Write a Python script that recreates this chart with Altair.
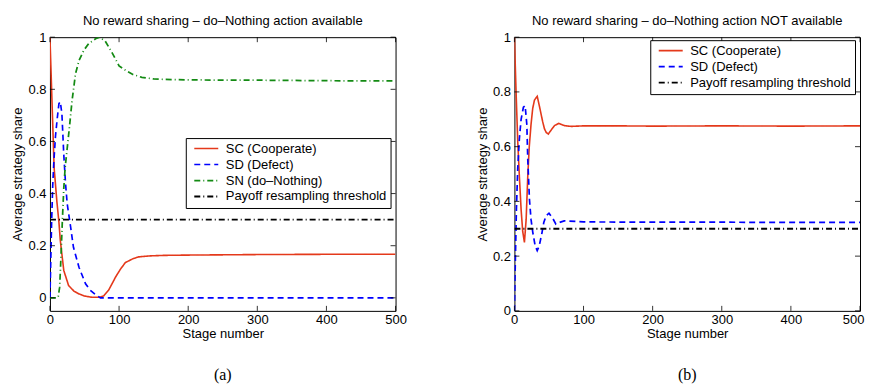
import altair as alt
import pandas as pd

# ---------------- data ----------------
SERIES_A = ["SC (Cooperate)", "SD (Defect)", "SN (do–Nothing)", "Payoff resampling threshold"]
SERIES_B = ["SC (Cooperate)", "SD (Defect)", "Payoff resampling threshold"]

# Panel (a): do-Nothing available
a_sc_x = [0, 3, 6, 10, 13, 15, 20, 27, 35, 42, 50, 61, 72, 78, 85, 95, 102, 109, 120, 128, 145, 167, 200, 250, 300, 400, 500]
a_sc_y = [1.0, 0.75, 0.5, 0.37, 0.29, 0.22, 0.105, 0.047, 0.025, 0.015, 0.007, 0.002, 0.002, 0.008, 0.03, 0.08, 0.11, 0.135, 0.15, 0.157, 0.161, 0.163, 0.164, 0.165, 0.166, 0.167, 0.167]

a_sd_x = [0, 1, 2.4, 4, 5.8, 8, 10.6, 13, 15, 17.3, 20, 22.5, 25, 30, 34, 42, 51.5, 58, 66, 73, 100, 200, 300, 400, 500]
a_sd_y = [0.0, 0.12, 0.29, 0.43, 0.53, 0.62, 0.69, 0.745, 0.752, 0.706, 0.55, 0.44, 0.36, 0.27, 0.194, 0.117, 0.054, 0.03, 0.012, 0.0, 0.0, 0.0, 0.0, 0.0, 0.0]

a_sn_x = [0, 11, 12, 14, 16, 18, 20, 22, 24, 28, 32, 37, 42, 49, 56, 66, 72, 80, 90, 100, 110, 120, 133, 150, 167, 200, 300, 400, 500]
a_sn_y = [0.0, 0.0, 0.005, 0.04, 0.16, 0.3, 0.42, 0.5, 0.55, 0.65, 0.757, 0.86, 0.91, 0.95, 0.975, 0.994, 1.0, 0.985, 0.94, 0.89, 0.872, 0.857, 0.846, 0.84, 0.838, 0.836, 0.835, 0.833, 0.832]

a_th_x = [0, 500]
a_th_y = [0.3, 0.3]

# Panel (b): do-Nothing NOT available
b_sc_x = [0, 2.4, 4.8, 7.2, 9.7, 12, 14.5, 17, 19.3, 21.5, 24, 26.5, 29, 33, 36, 38.5, 41, 43.5, 46, 49, 53, 58, 64, 72, 82, 100, 150, 200, 300, 400, 500]
b_sc_y = [1.0, 0.8, 0.62, 0.49, 0.37, 0.29, 0.25, 0.335, 0.49, 0.6, 0.68, 0.74, 0.77, 0.784, 0.75, 0.72, 0.69, 0.665, 0.652, 0.646, 0.66, 0.677, 0.685, 0.677, 0.674, 0.676, 0.676, 0.675, 0.676, 0.675, 0.676]

b_sd_x = [0, 1.4, 2.9, 4.8, 7.2, 9.7, 13, 15.5, 18, 19.3, 21.7, 24, 26.6, 30, 33, 36, 40, 42.5, 46, 50, 55.5, 60, 65, 72, 100, 200, 300, 400, 500]
b_sd_y = [0.0, 0.19, 0.37, 0.52, 0.63, 0.70, 0.744, 0.75, 0.68, 0.555, 0.41, 0.335, 0.287, 0.238, 0.22, 0.238, 0.287, 0.323, 0.348, 0.357, 0.338, 0.317, 0.323, 0.329, 0.325, 0.324, 0.324, 0.323, 0.323]

b_th_x = [0, 500]
b_th_y = [0.3, 0.3]

X_TICKS = [0, 100, 200, 300, 400, 500]
Y_TICKS = [0, 0.2, 0.4, 0.6, 0.8, 1.0]

TITLE_A = "No reward sharing – do–Nothing action available"
TITLE_B = "No reward sharing – do–Nothing action NOT available"
CAP_A = "(a)"
CAP_B = "(b)"

# ---------------- styling ----------------
W, H = 346, 274
FONT = "Liberation Sans"
COLORS = {"SC (Cooperate)": "#e4391b", "SD (Defect)": "#0000ff",
          "SN (do–Nothing)": "#138a13", "Payoff resampling threshold": "#000000"}
DASHES = {"SC (Cooperate)": [1, 0], "SD (Defect)": [6, 4],
          "SN (do–Nothing)": [6, 3, 1, 3], "Payoff resampling threshold": [6, 3, 1, 3]}
WIDTHS = {"SC (Cooperate)": 1.6, "SD (Defect)": 1.8,
          "SN (do–Nothing)": 1.5, "Payoff resampling threshold": 0.6}


def build_df(parts):
    rows = []
    for name, xs, ys in parts:
        for x, y in zip(xs, ys):
            rows.append({"x": x, "y": y, "series": name})
    return pd.DataFrame(rows)


def panel(parts, names, title, caption, ydomain, legend_x, legend_y, flush):
    df = build_df(parts)
    xscale = alt.Scale(domain=[0, 500], nice=False, zero=False, padding=0)
    yscale = alt.Scale(domain=ydomain, nice=False, zero=False, padding=0)
    legend = alt.Legend(
        title=None, orient="none", legendX=legend_x, legendY=legend_y,
        symbolType="M-4,0H4", symbolSize=36, symbolStrokeWidth=1.5,
        symbolOffset=10, labelOffset=13, labelLimit=400,
        labelFont=FONT, labelFontSize=13, labelColor="black",
        rowPadding=2, padding=4, strokeColor="black", fillColor="white",
        cornerRadius=0,
    )
    xaxis_kw = dict(values=X_TICKS, title="Stage number", ticks=False,
                    labelPadding=3, titlePadding=1, grid=False)
    if flush:
        xaxis_kw.update(labelFlush=True, labelFlushOffset=4)
    else:
        xaxis_kw.update(labelFlush=False)
    lines = alt.Chart(df).mark_line(clip=True).encode(
        x=alt.X("x:Q", scale=xscale, axis=alt.Axis(**xaxis_kw)),
        y=alt.Y("y:Q", scale=yscale,
                axis=alt.Axis(values=Y_TICKS, format="~g", title="Average strategy share",
                              labelFlush=False, ticks=False, labelPadding=4, titlePadding=3,
                              grid=False)),
        color=alt.Color("series:N", sort=names,
                        scale=alt.Scale(domain=names, range=[COLORS[n] for n in names]),
                        legend=legend),
        strokeDash=alt.StrokeDash("series:N", sort=names,
                                  scale=alt.Scale(domain=names, range=[DASHES[n] for n in names]),
                                  legend=legend),
        strokeWidth=alt.StrokeWidth("series:N",
                                    scale=alt.Scale(domain=names, range=[WIDTHS[n] for n in names]),
                                    legend=None),
    )

    yt = pd.DataFrame({"y": Y_TICKS})
    xt = pd.DataFrame({"x": X_TICKS})
    tick_style = dict(color="black", strokeWidth=0.8)
    yl = alt.Chart(yt).mark_rule(**tick_style).encode(
        y=alt.Y("y:Q", scale=yscale), x=alt.value(0), x2=alt.value(5))
    yr = alt.Chart(yt).mark_rule(**tick_style).encode(
        y=alt.Y("y:Q", scale=yscale), x=alt.value(W - 5), x2=alt.value(W))
    xb = alt.Chart(xt).mark_rule(**tick_style).encode(
        x=alt.X("x:Q", scale=xscale), y=alt.value(H - 5), y2=alt.value(H))
    xtp = alt.Chart(xt).mark_rule(**tick_style).encode(
        x=alt.X("x:Q", scale=xscale), y=alt.value(0), y2=alt.value(5))

    cap = alt.Chart(pd.DataFrame({"c": [caption]})).mark_text(
        font="Liberation Serif", fontSize=16, baseline="middle", align="center", color="black"
    ).encode(text="c:N", x=alt.value(W / 2), y=alt.value(H + 64))

    return alt.layer(lines, yl, yr, xb, xtp, cap).properties(
        width=W, height=H,
        title=alt.TitleParams(title, font=FONT, fontSize=13, fontWeight="normal",
                              color="black", anchor="middle", frame="group", offset=3),
    )


left = panel(
    [(SERIES_A[0], a_sc_x, a_sc_y), (SERIES_A[1], a_sd_x, a_sd_y),
     (SERIES_A[2], a_sn_x, a_sn_y), (SERIES_A[3], a_th_x, a_th_y)],
    SERIES_A, TITLE_A, CAP_A, [-0.05, 1.0], 136, 101, False)

right = panel(
    [(SERIES_B[0], b_sc_x, b_sc_y), (SERIES_B[1], b_sd_x, b_sd_y),
     (SERIES_B[2], b_th_x, b_th_y)],
    SERIES_B, TITLE_B, CAP_B, [0.0, 1.0], 136, 3, True)

chart = alt.hconcat(left, right, spacing=68).resolve_scale(
    x="independent", y="independent", color="independent",
    strokeDash="independent", strokeWidth="independent",
).resolve_legend(color="independent", strokeDash="independent").properties(
    padding={"left": 3, "top": 6, "right": 0, "bottom": 0},
    background="white",
).configure_view(stroke="black", strokeWidth=1).configure_axis(
    labelFont=FONT, titleFont=FONT, labelFontSize=13, titleFontSize=13,
    labelColor="black", titleColor="black", titleFontWeight="normal",
    domain=False,
)

chart.save("out.html", embed_options={"renderer": "svg", "actions": False})
